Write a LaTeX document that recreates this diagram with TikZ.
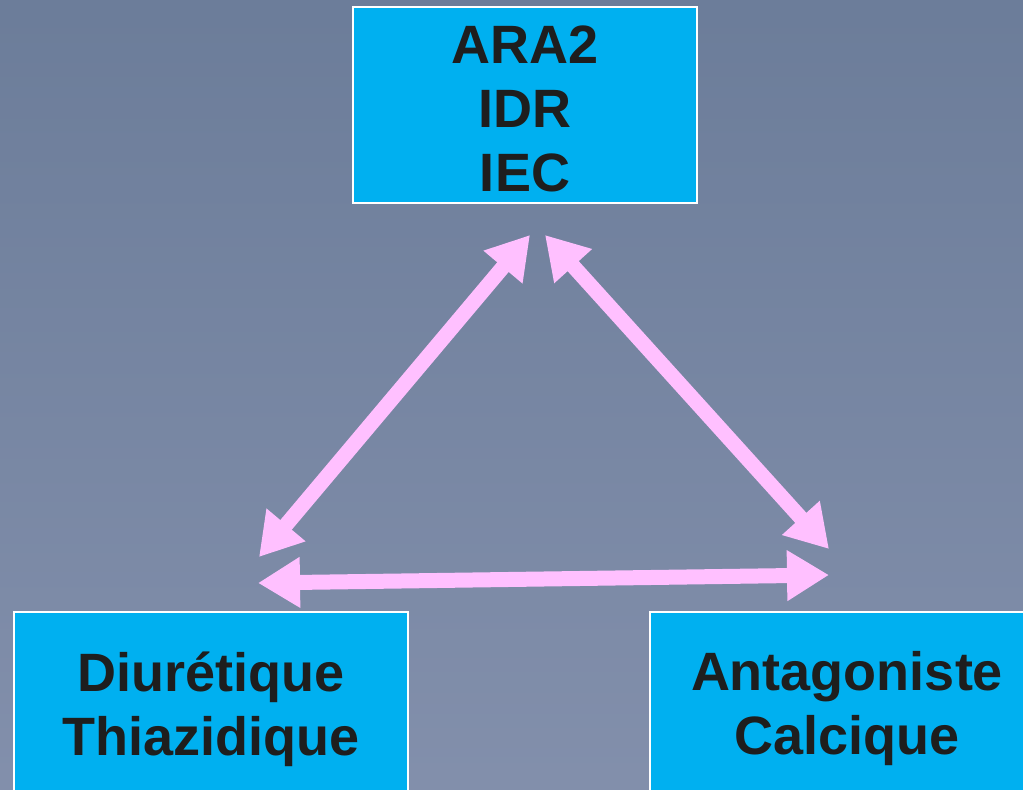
\documentclass[tikz,border=0pt]{standalone}
\usepackage{fontspec}
\setmainfont{Liberation Sans}
\usetikzlibrary{arrows.meta}
\definecolor{boxcyan}{HTML}{00B0F0}
\definecolor{txt}{HTML}{1E1E1E}
\definecolor{pinkarr}{HTML}{FFC0FF}
\definecolor{bglight}{HTML}{8894B0}
\definecolor{bgdark}{HTML}{667895}
\begin{document}
\begin{tikzpicture}[x=1pt,y=-1pt,
  boxframe/.style={draw=white,line width=1.5pt,fill=boxcyan,inner sep=0pt},
  boxtext/.style={text=txt,font=\fontsize{54}{64}\selectfont\bfseries,align=center,inner sep=0pt},
  dbl/.style={draw=pinkarr,line width=15pt,
    {Triangle[length=42pt,width=48pt]}-{Triangle[length=42pt,width=48pt]}}]
\useasboundingbox (0,0) rectangle (1023,790);
\clip (0,0) rectangle (1023,790);
\shade[shading angle=45,bottom color=bglight,top color=bgdark] (-200,-200) rectangle (1223,990);
\node[boxframe,minimum width=344pt,minimum height=196pt] (top) at (525,105) {};
\node[boxtext] (toptext) at ([yshift=-4pt]top.center) {ARA2\\IDR\\IEC};
\node[boxframe,minimum width=394pt,minimum height=190pt] (left) at (211,707) {};
\node[boxtext] (lefttext) at ([yshift=-2pt]left.center) {Diurétique\\Thiazidique};
\node[boxframe,minimum width=394pt,minimum height=190pt] (right) at (847,707) {};
\node[boxtext] (righttext) at ([yshift=-2pt]right.center) {Antagoniste\\Calcique};
\coordinate (tl) at (530,235);
\coordinate (tr) at (545,235);
\coordinate (ld) at (259,557);
\coordinate (lh) at (258,583);
\coordinate (rd) at (829,549);
\coordinate (rh) at (829,575);
\draw[dbl] (ld) -- (tl);
\draw[dbl] (rd) -- (tr);
\draw[dbl] (lh) -- (rh);
\end{tikzpicture}
\end{document}
